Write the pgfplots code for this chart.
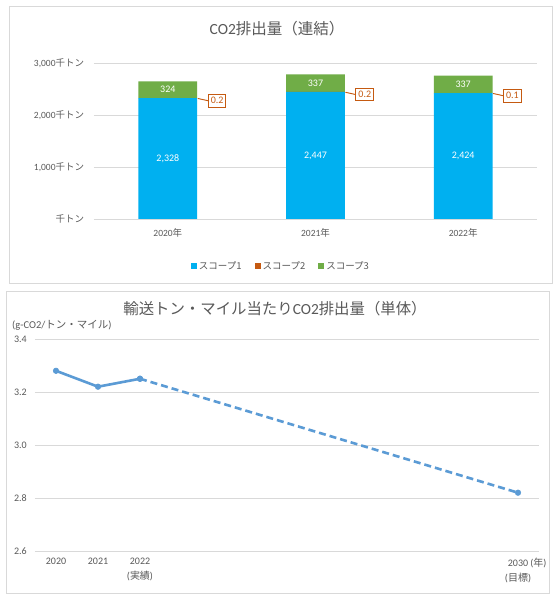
\documentclass[border=0pt]{standalone}
\usepackage{pgfplots}
\pgfplotsset{compat=1.18}
\usepackage{fontspec}
\setmainfont{Carlito}
\newfontfamily\cjk{Noto Sans CJK JP}
\definecolor{txt}{HTML}{595959}
\definecolor{gridc}{HTML}{D9D9D9}
\definecolor{sOne}{HTML}{00B0F0}
\definecolor{sTwo}{HTML}{C55A11}
\definecolor{sThree}{HTML}{70AD47}
\definecolor{lineb}{HTML}{5B9BD5}
\definecolor{framec}{HTML}{D9D9D9}
\begin{document}
\begin{tikzpicture}[x=1pt,y=1pt]
\useasboundingbox (0,0) rectangle (560,603);
\fill[white] (0,0) rectangle (560,603);
\draw[framec, line width=0.9pt] (9.5,320) rectangle (552.5,597);
\draw[framec, line width=0.9pt] (6,10) rectangle (549,312);

\begin{axis}[
  at={(94pt,384pt)}, anchor=south west,
  scale only axis, width=443pt, height=155.7pt,
  ybar stacked, bar width=58.7pt,
  xmin=-0.5, xmax=2.5, ymin=0, ymax=3000,
  xtick={0,1,2}, xticklabels={2020{\cjk 年},2021{\cjk 年},2022{\cjk 年}},
  ytick={0,1000,2000,3000},
  yticklabels={{\cjk 千トン},{1,000\cjk 千トン},{2,000\cjk 千トン},{3,000\cjk 千トン}},
  axis line style={draw=none}, major tick length=0pt, tick style={draw=none},
  ymajorgrids, grid style={gridc, line width=0.8pt},
  /pgf/number format/assume math mode=true,
  ticklabel style={font=\fontsize{9.5}{11}\selectfont, text=txt},
  yticklabel style={anchor=east, inner sep=0pt, xshift=-9.7pt},
  xticklabel style={anchor=center, inner sep=0pt, yshift=-14.3pt},
  legend style={at={(0.422,-0.302)}, anchor=center, draw=none, fill=none,
    legend columns=3, font=\cjk\fontsize{9.5}{11}\selectfont, text=txt,
    /tikz/every even column/.append style={column sep=11pt}},
  clip=false,
]
\addplot[fill=sOne, draw=none,
  legend image code/.code={\fill[sOne] (0pt,-3pt) rectangle (6pt,3pt);},
  nodes near coords={\pgfmathprintnumber[1000 sep={{,}}]{\pgfplotspointmeta}},
  every node near coord/.append style={anchor=center, text=white,
    font=\fontsize{10}{11}\selectfont}]
  coordinates {(0,2328) (1,2447) (2,2424)};
\addlegendentry{スコープ1}
\addplot[fill=sTwo, draw=none,
  legend image code/.code={\fill[sTwo] (0pt,-3pt) rectangle (6pt,3pt);},
  nodes near coords={\pgfmathprintnumber[fixed, precision=1, fixed zerofill, use period]{\pgfplotspointmeta}},
  every node near coord/.append style={anchor=west, xshift=40pt, yshift=-2.5pt,
    draw=sTwo, fill=white, text=sTwo, line width=0.9pt,
    inner xsep=2.5pt, inner ysep=3pt, font=\fontsize{10}{11}\selectfont,
    append after command={(\tikzlastnode.west) edge[draw=sTwo, line width=0.9pt] ([shift={(-10pt,2.2pt)}]\tikzlastnode.west)}}]
  coordinates {(0,0.2) (1,0.2) (2,0.1)};
\addlegendentry{スコープ2}
\addplot[fill=sThree, draw=none,
  legend image code/.code={\fill[sThree] (0pt,-3pt) rectangle (6pt,3pt);},
  nodes near coords={\pgfmathprintnumber[1000 sep={{,}}]{\pgfplotspointmeta}},
  every node near coord/.append style={anchor=center, text=white,
    font=\fontsize{10}{11}\selectfont}]
  coordinates {(0,324) (1,337) (2,337)};
\addlegendentry{スコープ3}
\end{axis}

\begin{axis}[
  at={(35pt,52pt)}, anchor=south west,
  scale only axis, width=504pt, height=212pt,
  xmin=-0.5, xmax=11.5, ymin=2.6, ymax=3.4,
  xtick={0,1,2,11},
  xticklabels={2020,2021,{2022\\({\cjk 実績})},{2030\rlap{ ({\cjk 年})}\\({\cjk 目標})}},
  ytick={2.6,2.8,3.0,3.2,3.4},
  axis line style={draw=none}, major tick length=0pt, tick style={draw=none},
  ymajorgrids, grid style={gridc, line width=0.8pt},
  /pgf/number format/assume math mode=true,
  ticklabel style={font=\fontsize{10}{15}\selectfont, text=txt},
  yticklabel style={anchor=east, inner sep=0pt, xshift=-8pt,
    /pgf/number format/.cd, fixed, fixed zerofill, precision=1},
  xticklabel style={anchor=north, inner sep=0pt, yshift=-7pt, align=center},
  clip=false,
]
\addplot[lineb, line width=2.6pt, mark=*, mark size=2.8pt, mark options={solid, line width=0.5pt, fill=lineb}]
  coordinates {(0,3.28) (1,3.22) (2,3.25)};
\addplot[lineb, line width=2.6pt, dash pattern=on 7pt off 4pt, mark=*, mark size=2.8pt, mark options={solid, line width=0.5pt, fill=lineb}]
  coordinates {(2,3.25) (11,2.82)};
\end{axis}

\node[text=txt, font=\fontsize{15.5}{17}\selectfont] at (277,574) {CO2{\cjk 排出量（連結）}};
\node[text=txt, font=\fontsize{15.4}{17}\selectfont] at (275,294) {{\cjk 輸送トン・マイル当たり}CO2{\cjk 排出量（単体）}};
\node[text=txt, font=\fontsize{10.5}{12}\selectfont, anchor=west, inner sep=0pt] at (12,277.3) {(g-CO2/{\cjk トン・マイル})};
\end{tikzpicture}
\end{document}
